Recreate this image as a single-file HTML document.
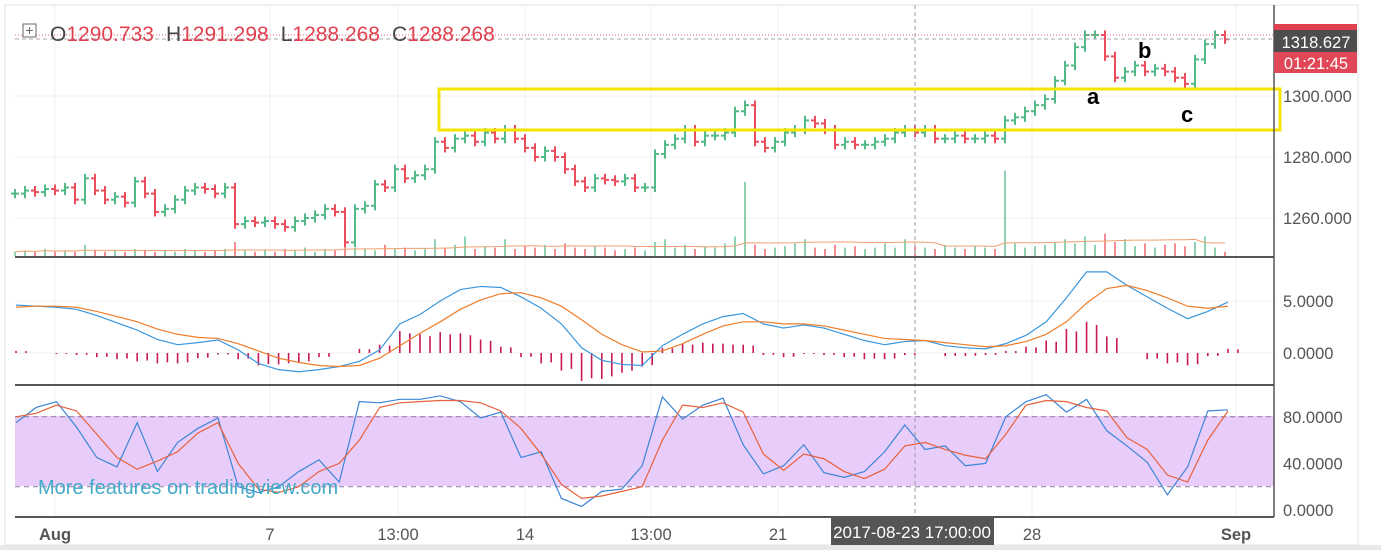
<!DOCTYPE html>
<html><head><meta charset="utf-8"><style>
body{margin:0;background:#fff;width:1381px;height:550px;overflow:hidden;font-family:"Liberation Sans",sans-serif}
svg{display:block}
</style></head><body>
<svg id="chart" width="1381" height="550" xmlns="http://www.w3.org/2000/svg" font-family="Liberation Sans, sans-serif">
<rect x="0" y="0" width="1381" height="550" fill="#fff"/>
<g id="grid"></g>
<rect x="15" y="416" width="1259" height="70" fill="#e8cdfb"/>
<g id="marks"></g>
<g id="axes"></g>
</svg>
<script>
const closes=[1268,1269,1268.5,1269.5,1269,1270,1266,1273,1269,1266,1267,1265,1272,1268,1262,1263,1266,1269,1270,1269.5,1268,1270,1258,1259,1258.5,1259,1258,1257,1259,1260,1261,1263,1262,1252,1263,1264,1271,1270,1276,1273,1274,1276,1285,1283,1286,1287,1285,1288,1286,1289,1286,1283,1280,1282,1280,1276,1272,1270,1273,1272.5,1272,1273,1270,1270,1281,1284,1286,1289,1285,1287,1287,1288,1295,1297,1285,1283,1285,1288,1289,1292,1291,1289,1284,1285,1284,1284,1285,1286,1288,1289,1288,1289,1286,1286,1287,1286,1286,1287,1286,1292,1293,1295,1297,1299,1305,1310,1316,1320,1320,1313,1306,1308,1310,1308,1309,1308,1306,1304,1312,1317,1320,1318.6];
const volumes=[3,4,3,5,3,4,3,8,4,3,4,3,5,4,3,4,3,5,4,3,4,5,10,4,3,4,3,5,4,6,3,5,4,15,6,5,4,8,5,6,4,5,12,6,8,14,5,7,6,12,5,7,6,8,5,9,6,5,7,6,4,5,6,4,10,12,6,8,5,7,6,9,14,53,8,5,6,7,9,12,6,5,8,6,7,5,6,9,6,12,7,6,5,8,6,5,7,6,5,61,9,6,7,8,10,12,9,14,8,16,10,12,7,9,6,8,9,7,10,14,6,3];
const macdLine=[4.6,4.5,4.4,4.2,3.6,2.9,2.2,1.3,0.8,1.0,1.25,0.3,-1.0,-1.6,-1.8,-1.6,-1.3,-0.8,0.3,2.8,3.7,5.0,6.1,6.4,6.3,5.4,4.3,2.8,0.5,-0.7,-1.1,-1.2,0.7,1.8,2.8,3.5,3.8,2.8,2.4,2.7,2.4,1.8,1.2,0.8,1.1,1.2,0.7,0.5,0.4,0.9,1.7,3.0,5.3,7.8,7.8,6.5,5.4,4.3,3.3,4.0,4.9];
const signalLine=[4.4,4.5,4.5,4.4,4.0,3.5,3.0,2.3,1.8,1.5,1.4,0.9,0.2,-0.5,-0.9,-1.2,-1.3,-1.2,-0.5,0.7,1.9,3.0,4.2,5.1,5.7,5.8,5.3,4.5,3.2,1.8,0.8,0.1,0.2,0.9,1.8,2.6,3.0,3.0,2.8,2.8,2.6,2.2,1.8,1.4,1.3,1.2,1.0,0.8,0.6,0.7,1.1,1.8,3.0,4.8,6.2,6.5,6.0,5.3,4.5,4.3,4.5];
const stochK=[75,88,93,71,45,37,75,33,58,70,79,20,15,20,33,43,24,93,92,95,95,98,93,79,84,45,50,10,3,16,18,38,97,78,90,96,56,31,38,56,32,28,33,50,73,52,55,38,40,80,93,99,84,95,68,55,41,13,37,85,86];
const stochD=[80,83,90,85,65,45,35,42,50,66,75,40,18,15,20,33,40,60,88,92,93,94,94,92,85,70,48,22,10,12,16,20,60,90,88,92,84,48,34,48,44,33,27,35,55,58,52,47,44,65,90,94,93,88,85,62,52,30,24,60,85];
const priceTicks=[1260,1280,1300];
const macdTicks=[0,5];
const stochTicks=[0,40,80];
const xLabels=["Aug","7","13:00","14","13:00","21","28","Sep"];
const xLabelPos=[55,270,398,525,651,778,1032,1236];

const NS="http://www.w3.org/2000/svg";
function el(t,a,p){const e=document.createElementNS(NS,t);for(const k in a)e.setAttribute(k,a[k]);document.getElementById(p).appendChild(e);return e;}
const bx=i=>15+10*i;
const ix=i=>16+20.2*i;
const py=v=>96-(v-1300)*3.05;
const my=v=>353-v*10.4;
const sy=v=>510-v*1.165;
const vy=v=>256-v*1.4;

priceTicks.forEach(t=>{const g=el('line',{x1:15,x2:1274,y1:py(t),y2:py(t),stroke:'#eef0f2'},'grid');});
macdTicks.forEach(t=>{const g=el('line',{x1:15,x2:1274,y1:my(t),y2:my(t),stroke:'#eef0f2'},'grid');});
xLabelPos.forEach(x=>{const g=el('line',{x1:x,x2:x,y1:5,y2:517,stroke:'#eef0f2'},'grid');});

volumes.forEach((v,i)=>{if(i>=closes.length)return;const up=i===0||closes[i]>=closes[i-1];
const r=el('line',{x1:bx(i),x2:bx(i),y1:vy(v),y2:256,stroke:up?'#53b987':'#eb4d5c','stroke-width':1.3},'marks');
});
let ma=[];volumes.forEach((v,i)=>{const s=volumes.slice(Math.max(0,i-19),i+1);ma.push(s.reduce((a,b)=>a+b,0)/s.length);});
const mal=el('polyline',{points:ma.map((v,i)=>bx(i)+','+vy(v)).join(' '),fill:'none',stroke:'#f0a070','stroke-width':1},'marks');


closes.forEach((c,i)=>{const o=i?closes[i-1]:c;const h=Math.max(o,c)+1.5,l=Math.min(o,c)-1.5;const col=c>=o?'#53b987':'#eb4d5c';const x=bx(i);
const g=el('g',{stroke:col,'stroke-width':2},'marks');
const a=document.createElementNS(NS,'line');a.setAttribute('x1',x);a.setAttribute('x2',x);a.setAttribute('y1',py(h));a.setAttribute('y2',py(l));g.appendChild(a);
const b=document.createElementNS(NS,'line');b.setAttribute('x1',x-4);b.setAttribute('x2',x);b.setAttribute('y1',py(o));b.setAttribute('y2',py(o));g.appendChild(b);
const d=document.createElementNS(NS,'line');d.setAttribute('x1',x);d.setAttribute('x2',x+4);d.setAttribute('y1',py(c));d.setAttribute('y2',py(c));g.appendChild(d);});

macdLine.forEach((m,i)=>{const h=m-signalLine[i];
const r=el('line',{x1:ix(i),x2:ix(i),y1:my(0),y2:my(h),stroke:'#c8185c','stroke-width':1.6},'marks');

const r2=el('line',{x1:ix(i)+10,x2:ix(i)+10,y1:my(0),y2:my(h*0.9),stroke:'#c8185c','stroke-width':1.6},'marks');
});
const ml=el('polyline',{points:macdLine.map((v,i)=>ix(i)+','+my(v)).join(' '),fill:'none',stroke:'#3a96dd','stroke-width':1.2},'marks');

const sl=el('polyline',{points:signalLine.map((v,i)=>ix(i)+','+my(v)).join(' '),fill:'none',stroke:'#ef7d2a','stroke-width':1.2},'marks');


[80,20].forEach(t=>{const g=el('line',{x1:15,x2:1274,y1:sy(t),y2:sy(t),stroke:'#8a7a99','stroke-dasharray':'5,4'},'marks');});
const kl=el('polyline',{points:stochK.map((v,i)=>ix(i)+','+sy(v)).join(' '),fill:'none',stroke:'#3d85d6','stroke-width':1.2},'marks');

const dl=el('polyline',{points:stochD.map((v,i)=>ix(i)+','+sy(v)).join(' '),fill:'none',stroke:'#e8613c','stroke-width':1.2},'marks');


priceTicks.forEach(t=>{const tx=el('text',{x:1283,y:py(t)+6,'font-size':16.5,fill:'#555'},'axes');tx.textContent=t.toFixed(3);});
macdTicks.forEach(t=>{const tx=el('text',{x:1283,y:my(t)+6,'font-size':16.5,fill:'#555'},'axes');tx.textContent=t.toFixed(4);});
stochTicks.forEach(t=>{const tx=el('text',{x:1283,y:sy(t)+6,'font-size':16.5,fill:'#555'},'axes');tx.textContent=(t?t:0).toFixed(4);});
xLabels.forEach((s,i)=>{const tx=el('text',{x:xLabelPos[i],y:540,'font-size':16.5,fill:'#555','text-anchor':'middle','font-weight':(s==='Aug'||s==='Sep')?'bold':'normal'},'axes');tx.textContent=s;});
</script>
<svg style="position:absolute;left:0;top:0" width="1381" height="550" xmlns="http://www.w3.org/2000/svg" font-family="Liberation Sans, sans-serif">
<rect x="5" y="5" width="1353" height="540" fill="none" stroke="#e0e3e6"/>
<line x1="15" x2="1274" y1="35" y2="35" stroke="#e06070" stroke-dasharray="1,2"/>
<line x1="15" x2="1274" y1="39" y2="39" stroke="#aaa" stroke-dasharray="4,3"/>
<line x1="915" x2="915" y1="5" y2="517" stroke="#999" stroke-dasharray="4,3"/>
<rect x="439" y="89" width="841" height="41" fill="none" stroke="#f4e400" stroke-width="3"/>
<text x="1087" y="104" font-size="22" font-weight="bold" fill="#000">a</text>
<text x="1138" y="58" font-size="22" font-weight="bold" fill="#000">b</text>
<text x="1181" y="122" font-size="22" font-weight="bold" fill="#000">c</text>
<line x1="15" x2="1274" y1="257" y2="257" stroke="#555" stroke-width="2"/>
<line x1="15" x2="1274" y1="385" y2="385" stroke="#555" stroke-width="2"/>
<line x1="15" x2="1274" y1="517" y2="517" stroke="#555" stroke-width="2"/>
<line x1="1274" x2="1274" y1="5" y2="517" stroke="#555" stroke-width="1.5"/>
<rect x="0" y="545" width="1381" height="5" fill="#e8e8e8"/>
<rect x="831" y="517" width="163" height="28" fill="#555"/>
<text x="912" y="538" font-size="17" fill="#fff" text-anchor="middle">2017-08-23 17:00:00</text>
<rect x="1274" y="24" width="83" height="6" fill="#e04050"/>
<rect x="1274" y="30" width="83" height="22" fill="#4d4d4d"/>
<text x="1316" y="48" font-size="16.5" fill="#fff" text-anchor="middle">1318.627</text>
<rect x="1274" y="52" width="83" height="21" fill="#e04858"/>
<text x="1316" y="69" font-size="16.5" fill="#fff" text-anchor="middle">01:21:45</text>
<rect x="23" y="24" width="13" height="13" fill="#fff" stroke="#666"/>
<text x="29.5" y="35" font-size="14" fill="#666" text-anchor="middle">+</text>
<text x="50" y="41" font-size="21" fill="#444">O<tspan fill="#e04050">1290.733</tspan><tspan dx="12">H</tspan><tspan fill="#e04050">1291.298</tspan><tspan dx="12">L</tspan><tspan fill="#e04050">1288.268</tspan><tspan dx="12">C</tspan><tspan fill="#e04050">1288.268</tspan></text>
<text x="38" y="494" font-size="20" fill="#45a9c8">More features on tradingview.com</text>
</svg>
</body></html>
